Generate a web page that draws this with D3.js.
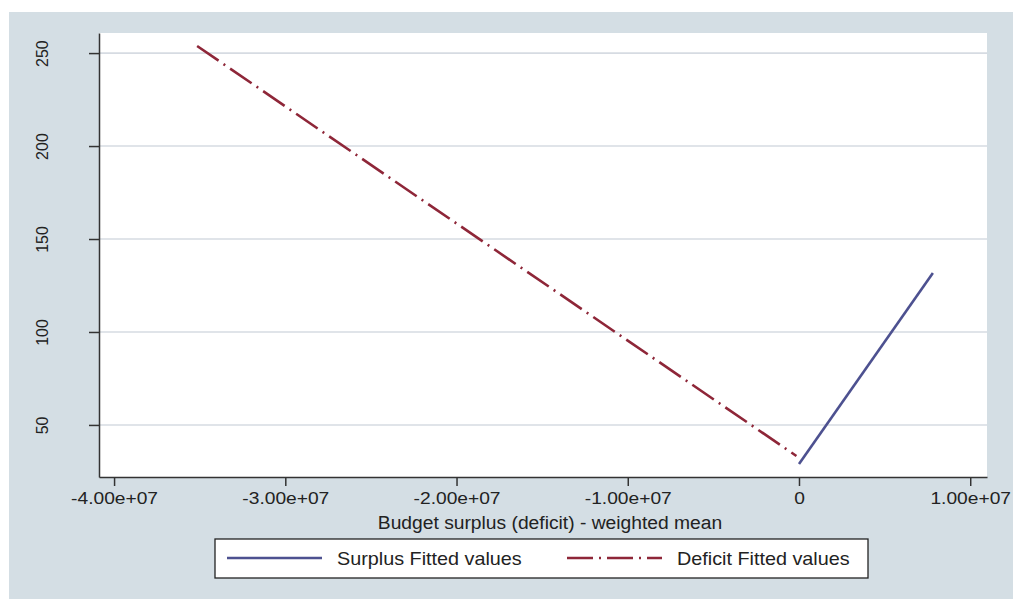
<!DOCTYPE html>
<html>
<head>
<meta charset="utf-8">
<script src="https://cdn.jsdelivr.net/npm/d3@7"></script>
<style>
  body { margin: 0; background: #fff; }
  svg { display: block; font-family: "Liberation Sans", Arial, sans-serif; }
</style>
</head>
<body>
<div id="area"></div>
<script>
// data
var xTicks = [-4e7, -3e7, -2e7, -1e7, 0, 1e7];
var yTicks = [50, 100, 150, 200, 250];
var surplusX = [0, 7.82e6];
var surplusY = [29, 131.7];
var deficitX = [-3.515e7, -1.5e5];
var deficitY = [253.8, 33.3];
var seriesNames = ["Surplus Fitted values", "Deficit Fitted values"];
var xTitle = "Budget surplus (deficit) - weighted mean";

var width = 1013, height = 599;
var mLeft = 99, mRight = 987, mTop = 33, mBottom = 477;
var blue = "#4d5190", red = "#8e2638";

var x = d3.scaleLinear().domain([-4.088e7, 1.098e7]).range([mLeft, mRight]);
var y = d3.scaleLinear().domain([22, 260.8]).range([mBottom, mTop]);

// stata-ish number format: -4.00e+07, 0
var expFmt = d3.formatLocale({ decimal: ".", thousands: ",", grouping: [3], currency: ["", ""], minus: "-" }).format(".2e");
function fmt(v) {
  if (v === 0) return "0";
  return expFmt(v).replace(/e([+-])(\d)$/, "e$10$2");
}

var svg = d3.select("#area").append("svg")
  .attr("width", width)
  .attr("height", height);

// outer graph region
svg.append("rect")
  .attr("x", 9).attr("y", 12)
  .attr("width", width - 9).attr("height", height - 12)
  .attr("fill", "#d4dee4");

// plot region
svg.append("rect")
  .attr("x", mLeft).attr("y", mTop)
  .attr("width", mRight - mLeft).attr("height", mBottom - mTop)
  .attr("fill", "#fff");

// grid
svg.append("g").selectAll("line")
  .data(yTicks)
  .enter().append("line")
  .attr("x1", mLeft).attr("x2", mRight)
  .attr("y1", function (d) { return y(d); })
  .attr("y2", function (d) { return y(d); })
  .attr("stroke", "#d6dbe2")
  .attr("stroke-width", 1.6);

// x axis
var gx = svg.append("g")
  .attr("transform", "translate(0," + mBottom + ")")
  .call(d3.axisBottom(x).tickValues(xTicks).tickFormat(fmt).tickSize(9).tickSizeOuter(0));
gx.select(".domain").attr("stroke", "#333").attr("stroke-width", 1.5);
gx.selectAll(".tick line").attr("stroke", "#333").attr("stroke-width", 1.5);
gx.selectAll(".tick text")
  .attr("y", 27).attr("dy", 0)
  .attr("transform", "scale(1.2,1)")
  .attr("font-size", 16)
  .attr("font-family", "Liberation Sans, Arial, sans-serif")
  .attr("fill", "#222");

// y axis
var gy = svg.append("g")
  .attr("transform", "translate(" + mLeft + ",0)")
  .call(d3.axisLeft(y).tickValues(yTicks).tickSize(10).tickSizeOuter(0));
gy.select(".domain").attr("stroke", "#333").attr("stroke-width", 1.5);
gy.selectAll(".tick line").attr("stroke", "#333").attr("stroke-width", 1.5);
gy.selectAll(".tick text")
  .attr("x", 0).attr("dy", 0)
  .attr("text-anchor", "middle")
  .attr("transform", "translate(-51,0) rotate(-90)")
  .attr("font-size", 16)
  .attr("font-family", "Liberation Sans, Arial, sans-serif")
  .attr("fill", "#222");

// x title
svg.append("text")
  .attr("transform", "translate(550,529) scale(1.07,1)")
  .attr("text-anchor", "middle")
  .attr("font-size", 18)
  .attr("fill", "#222")
  .text(xTitle);

// fitted lines
var line = d3.line()
  .x(function (d) { return x(d[0]); })
  .y(function (d) { return y(d[1]); });

svg.append("path")
  .datum(d3.zip(deficitX, deficitY))
  .attr("d", line)
  .attr("fill", "none")
  .attr("stroke", red)
  .attr("stroke-width", 2.6)
  .attr("stroke-dasharray", "26,6,2,6");

svg.append("path")
  .datum(d3.zip(surplusX, surplusY))
  .attr("d", line)
  .attr("fill", "none")
  .attr("stroke", blue)
  .attr("stroke-width", 2.6);

// legend
var lg = svg.append("g");
lg.append("rect")
  .attr("x", 215).attr("y", 539)
  .attr("width", 653).attr("height", 39)
  .attr("fill", "#fff")
  .attr("stroke", "#222")
  .attr("stroke-width", 1.3);

var keys = [
  { name: seriesNames[0], color: blue, dash: null, x0: 227, x1: 322, tx: 337 },
  { name: seriesNames[1], color: red, dash: "26,6,2,6", x0: 567, x1: 662, tx: 677 }
];
keys.forEach(function (k) {
  lg.append("line")
    .attr("x1", k.x0).attr("x2", k.x1)
    .attr("y1", 558).attr("y2", 558)
    .attr("stroke", k.color)
    .attr("stroke-width", 2.6)
    .attr("stroke-dasharray", k.dash);
  lg.append("text")
    .attr("transform", "translate(" + k.tx + ",565) scale(1.1,1)")
    .attr("font-size", 18)
    .attr("fill", "#222")
    .text(k.name);
});
</script>
</body>
</html>
